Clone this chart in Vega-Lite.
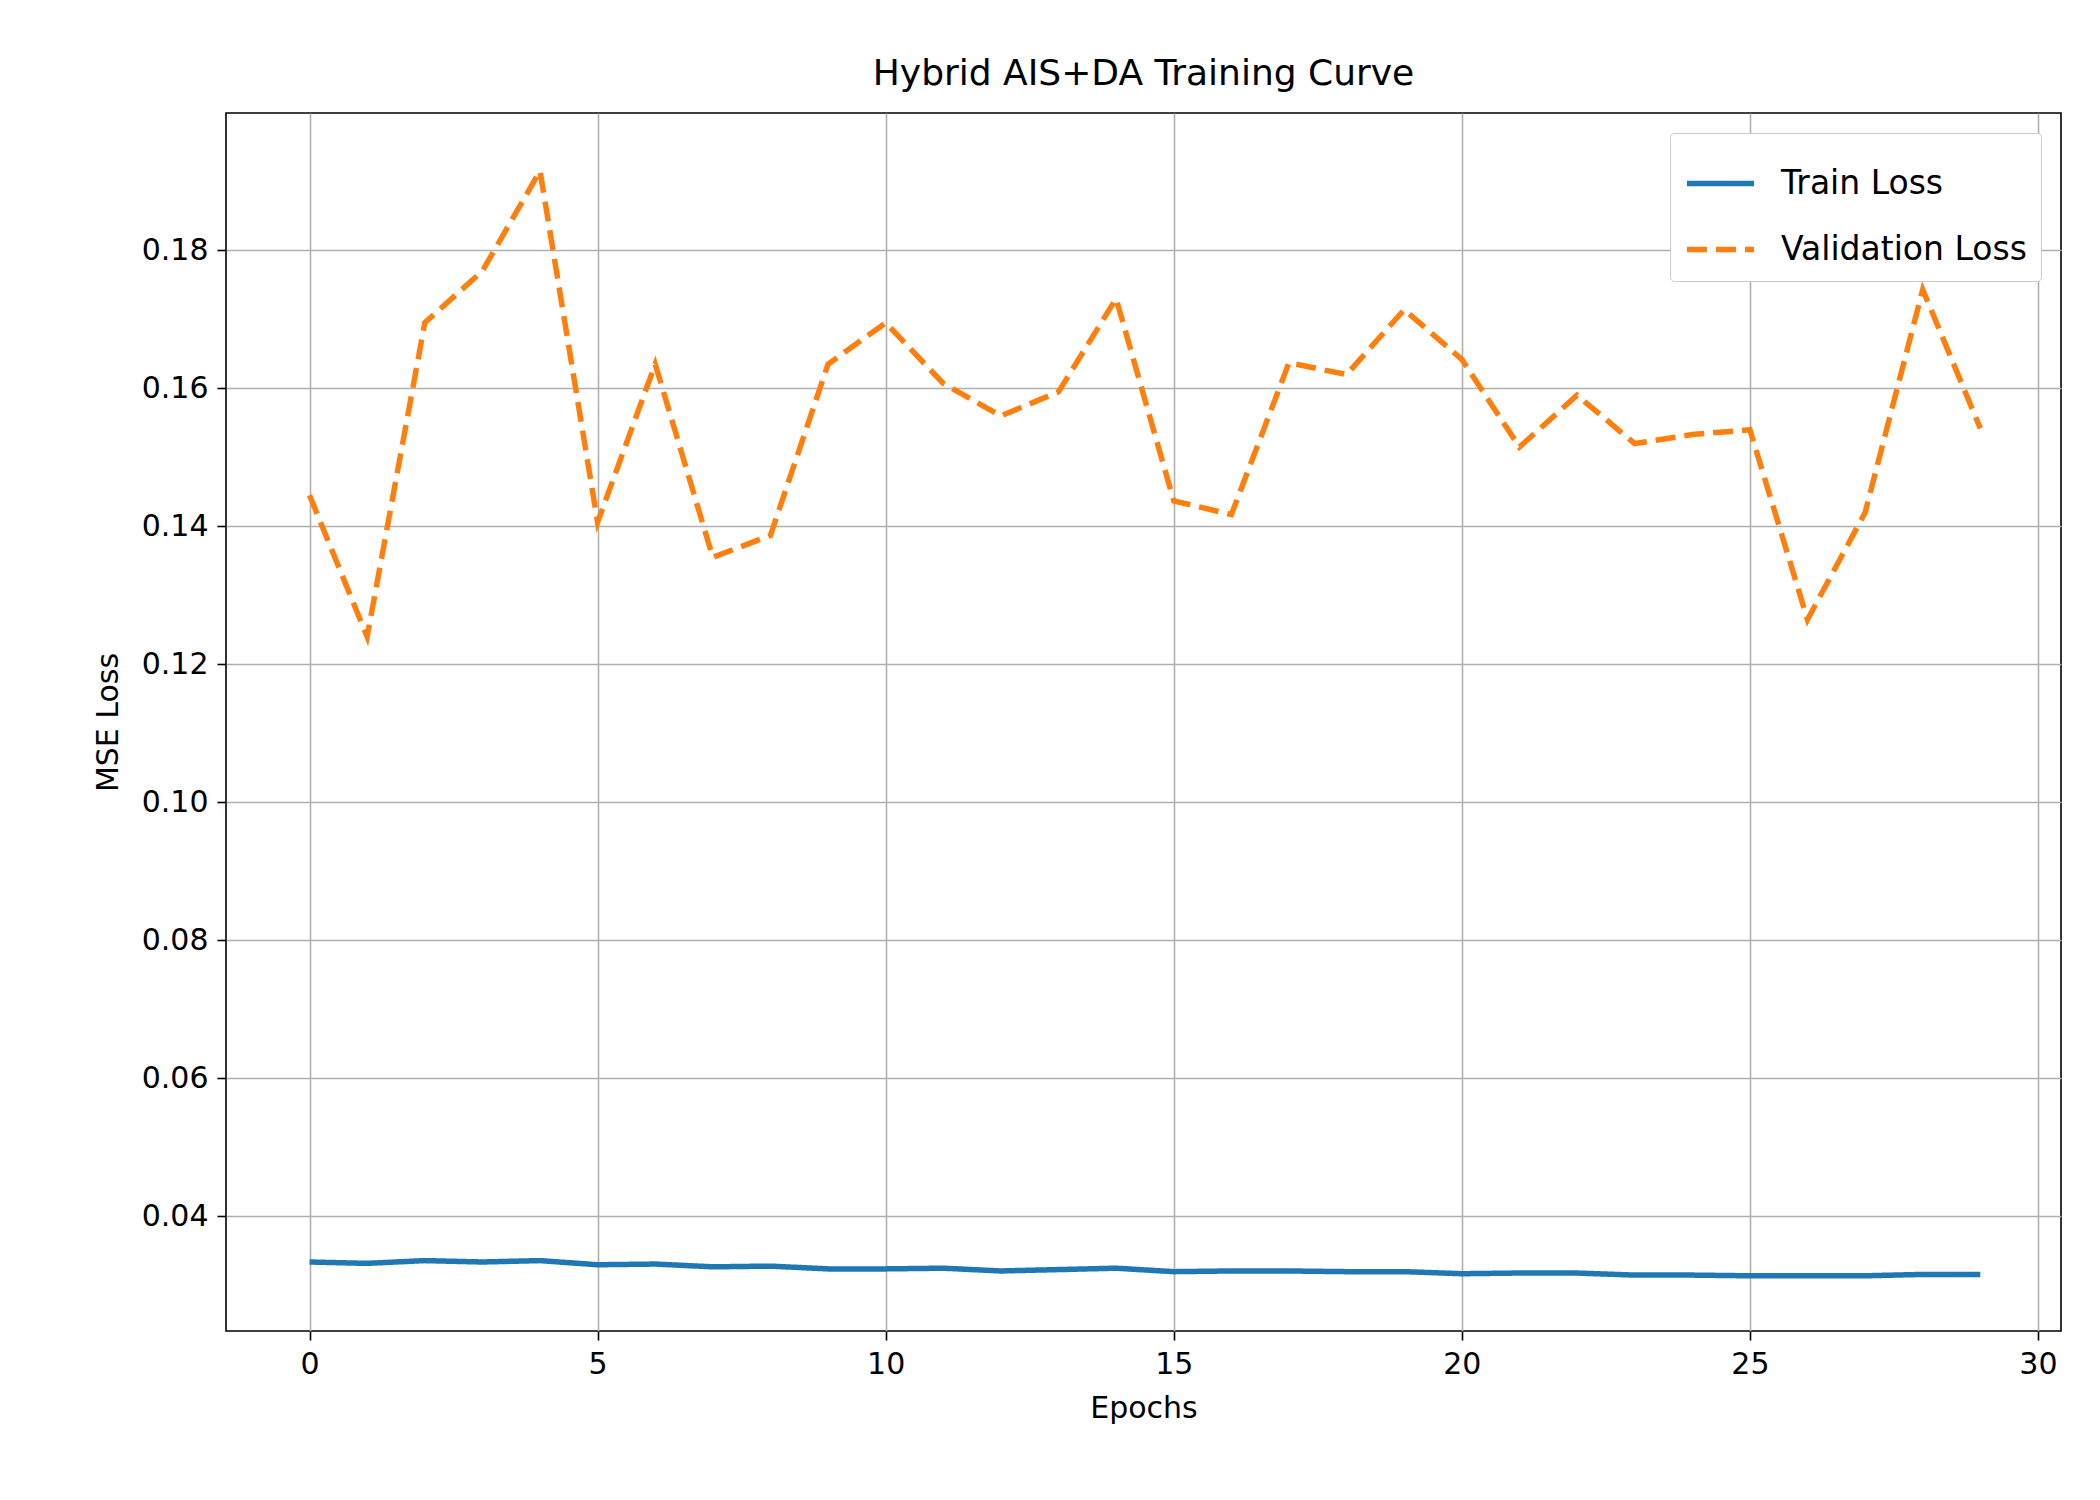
{
  "$schema": "https://vega.github.io/schema/vega-lite/v6.json",
  "autosize": "none",
  "width": 1835,
  "height": 1218,
  "padding": {"left": 226, "top": 113, "right": 39, "bottom": 169},
  "background": "white",
  "config": {
    "font": "DejaVu Sans",
    "view": {"stroke": "black", "strokeWidth": 1.6},
    "axis": {
      "grid": true, "gridColor": "#b0b0b0", "gridWidth": 1.6,
      "domain": false, "tickColor": "black", "tickSize": 9, "tickWidth": 1.6,
      "labelFontSize": 30, "labelColor": "black", "labelPadding": 9,
      "titleFontSize": 30, "titleFontWeight": "normal", "titleColor": "black"
    }
  },
  "title": {"text": "Hybrid AIS+DA Training Curve", "fontSize": 36, "fontWeight": "normal", "offset": 20},
  "data": {"values": [
    {"epoch":0,"series":"Train Loss","loss":0.0334},{"epoch":1,"series":"Train Loss","loss":0.0332},
    {"epoch":2,"series":"Train Loss","loss":0.0336},{"epoch":3,"series":"Train Loss","loss":0.0334},
    {"epoch":4,"series":"Train Loss","loss":0.0336},{"epoch":5,"series":"Train Loss","loss":0.0330},
    {"epoch":6,"series":"Train Loss","loss":0.0331},{"epoch":7,"series":"Train Loss","loss":0.0327},
    {"epoch":8,"series":"Train Loss","loss":0.0328},{"epoch":9,"series":"Train Loss","loss":0.0324},
    {"epoch":10,"series":"Train Loss","loss":0.0324},{"epoch":11,"series":"Train Loss","loss":0.0325},
    {"epoch":12,"series":"Train Loss","loss":0.0321},{"epoch":13,"series":"Train Loss","loss":0.0323},
    {"epoch":14,"series":"Train Loss","loss":0.0325},{"epoch":15,"series":"Train Loss","loss":0.0320},
    {"epoch":16,"series":"Train Loss","loss":0.0321},{"epoch":17,"series":"Train Loss","loss":0.0321},
    {"epoch":18,"series":"Train Loss","loss":0.0320},{"epoch":19,"series":"Train Loss","loss":0.0320},
    {"epoch":20,"series":"Train Loss","loss":0.0317},{"epoch":21,"series":"Train Loss","loss":0.0318},
    {"epoch":22,"series":"Train Loss","loss":0.0318},{"epoch":23,"series":"Train Loss","loss":0.0315},
    {"epoch":24,"series":"Train Loss","loss":0.0315},{"epoch":25,"series":"Train Loss","loss":0.0314},
    {"epoch":26,"series":"Train Loss","loss":0.0314},{"epoch":27,"series":"Train Loss","loss":0.0314},
    {"epoch":28,"series":"Train Loss","loss":0.0316},{"epoch":29,"series":"Train Loss","loss":0.0316},
    {"epoch":0,"series":"Validation Loss","loss":0.1445},{"epoch":1,"series":"Validation Loss","loss":0.124},
    {"epoch":2,"series":"Validation Loss","loss":0.1695},{"epoch":3,"series":"Validation Loss","loss":0.177},
    {"epoch":4,"series":"Validation Loss","loss":0.1915},{"epoch":5,"series":"Validation Loss","loss":0.1406},
    {"epoch":6,"series":"Validation Loss","loss":0.1635},{"epoch":7,"series":"Validation Loss","loss":0.1355},
    {"epoch":8,"series":"Validation Loss","loss":0.1387},{"epoch":9,"series":"Validation Loss","loss":0.1635},
    {"epoch":10,"series":"Validation Loss","loss":0.1695},{"epoch":11,"series":"Validation Loss","loss":0.1607},
    {"epoch":12,"series":"Validation Loss","loss":0.156},{"epoch":13,"series":"Validation Loss","loss":0.1595},
    {"epoch":14,"series":"Validation Loss","loss":0.173},{"epoch":15,"series":"Validation Loss","loss":0.1437},
    {"epoch":16,"series":"Validation Loss","loss":0.1417},{"epoch":17,"series":"Validation Loss","loss":0.1637},
    {"epoch":18,"series":"Validation Loss","loss":0.162},{"epoch":19,"series":"Validation Loss","loss":0.1714},
    {"epoch":20,"series":"Validation Loss","loss":0.1642},{"epoch":21,"series":"Validation Loss","loss":0.1515},
    {"epoch":22,"series":"Validation Loss","loss":0.159},{"epoch":23,"series":"Validation Loss","loss":0.152},
    {"epoch":24,"series":"Validation Loss","loss":0.1533},{"epoch":25,"series":"Validation Loss","loss":0.154},
    {"epoch":26,"series":"Validation Loss","loss":0.1265},{"epoch":27,"series":"Validation Loss","loss":0.142},
    {"epoch":28,"series":"Validation Loss","loss":0.1743},{"epoch":29,"series":"Validation Loss","loss":0.1542}
  ]},
  "mark": {"type": "line", "strokeWidth": 5.5, "clip": true},
  "encoding": {
    "x": {"field": "epoch", "type": "quantitative", "title": "Epochs",
          "scale": {"domain": [-1.45, 30.4], "nice": false, "zero": false},
          "axis": {"values": [0,5,10,15,20,25,30], "titlePadding": 14}},
    "y": {"field": "loss", "type": "quantitative", "title": "MSE Loss",
          "scale": {"domain": [0.0234, 0.1999], "nice": false, "zero": false},
          "axis": {"values": [0.04,0.06,0.08,0.10,0.12,0.14,0.16,0.18], "format": ".2f", "titlePadding": 18}},
    "color": {"field": "series", "type": "nominal",
              "scale": {"domain": ["Train Loss","Validation Loss"], "range": ["#1f77b4","#ff7f0e"]},
              "legend": {"title": null, "orient": "top-right", "offset": 20, "symbolType": "stroke",
                         "symbolSize": 4500, "symbolStrokeWidth": 5.5, "labelFontSize": 33, "labelColor": "black",
                         "labelLimit": 500, "rowPadding": 12, "padding": 14, "fillColor": "white", "strokeColor": "#cccccc",
                         "cornerRadius": 4, "labelOffset": 24}},
    "strokeDash": {"field": "series", "type": "nominal",
                   "scale": {"domain": ["Train Loss","Validation Loss"], "range": [[1,0],[20,9]]},
                   "legend": null}
  }
}
